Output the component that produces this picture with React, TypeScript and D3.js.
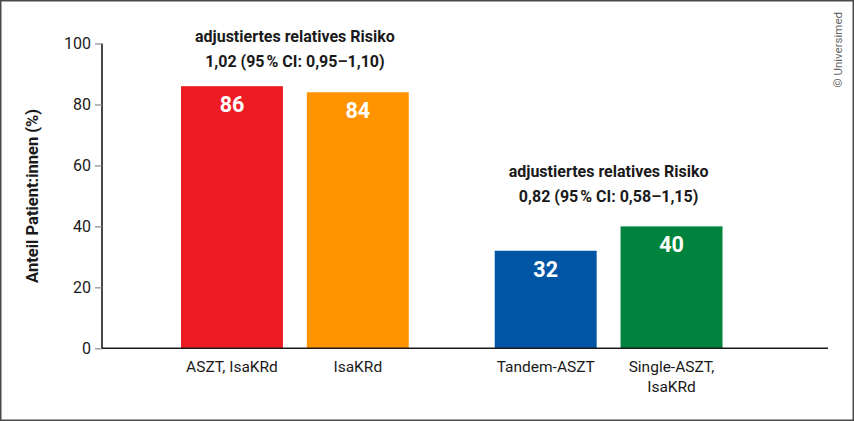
import React, { useEffect, useRef } from "react";
import * as d3 from "d3";

const categories = ["ASZT, IsaKRd", "IsaKRd", "Tandem-ASZT", "Single-ASZT,\nIsaKRd"];
const values = [86, 84, 32, 40];
const barGroup = [0, 0, 1, 1];
const barColors = ["#ed1c24", "#ff9400", "#0055a5", "#00843d"];
const annotations = [
  ["adjustiertes relatives Risiko", "1,02 (95\u202F% CI: 0,95–1,10)"],
  ["adjustiertes relatives Risiko", "0,82 (95\u202F% CI: 0,58–1,15)"],
];
const yTicks = [0, 20, 40, 60, 80, 100];

const W = 854;
const H = 421;
const FONT = "Roboto, 'Liberation Sans', sans-serif";

export default function App() {
  const svgRef = useRef<SVGSVGElement | null>(null);

  useEffect(() => {
    if (!svgRef.current) return;
    const svg = d3.select(svgRef.current);
    svg.selectAll("*").remove();

    // Rahmen
    svg
      .append("rect")
      .attr("x", 0.75)
      .attr("y", 0.75)
      .attr("width", W - 1.5)
      .attr("height", H - 1.5)
      .attr("fill", "#fff")
      .attr("stroke", "#4a4a4a")
      .attr("stroke-width", 1.5);

    const y = d3.scaleLinear().domain([0, 100]).range([348.3, 43.5]);

    // zwei Gruppen, je zwei Balken
    const xGroup = d3.scaleBand<number>().domain([0, 1]).range([181, 722.5]).paddingInner(0.274);
    const xInner = d3.scaleBand<number>().domain([0, 1]).range([0, xGroup.bandwidth()]).paddingInner(0.19);
    const bw = xInner.bandwidth();
    const bx = (i: number) => xGroup(barGroup[i])! + xInner(i % 2)!;

    const g = svg.append("g");

    // y-Achse
    const yAxis = g
      .append("g")
      .attr("transform", "translate(102,0)")
      .call(d3.axisLeft(y).tickValues(yTicks).tickSize(7).tickPadding(4));
    yAxis
      .select(".domain")
      .attr("stroke", "#1a1a1a")
      .attr("stroke-width", 1.6)
      .attr("d", `M0,${y(100)}V${y(0)}`);
    yAxis.selectAll(".tick line").attr("stroke", "#888").attr("stroke-width", 1.2);
    yAxis
      .selectAll(".tick text")
      .attr("fill", "#1a1a1a")
      .attr("font-family", FONT)
      .attr("font-size", 16);

    // Balken
    g.selectAll("rect.bar")
      .data(values)
      .join("rect")
      .attr("class", "bar")
      .attr("x", (_, i) => bx(i))
      .attr("width", bw)
      .attr("y", (d) => y(d))
      .attr("height", (d) => y(0) - y(d))
      .attr("fill", (_, i) => barColors[i]);

    // Werte
    g.selectAll("text.val")
      .data(values)
      .join("text")
      .attr("class", "val")
      .attr("x", (_, i) => bx(i) + bw / 2)
      .attr("y", (d) => y(d) + 26)
      .attr("text-anchor", "middle")
      .attr("fill", "#fff")
      .attr("font-family", FONT)
      .attr("font-weight", 700)
      .attr("font-size", 21.5)
      .text((d) => d);

    // x-Achse
    g.append("line")
      .attr("x1", 102)
      .attr("x2", 828)
      .attr("y1", y(0))
      .attr("y2", y(0))
      .attr("stroke", "#1a1a1a")
      .attr("stroke-width", 1.6);

    // Kategorien
    categories.forEach((c, i) => {
      const t = g
        .append("text")
        .attr("y", 372)
        .attr("text-anchor", "middle")
        .attr("fill", "#1a1a1a")
        .attr("font-family", FONT)
        .attr("font-size", 15.5);
      c.split("\n").forEach((line, j) => {
        t.append("tspan")
          .attr("x", bx(i) + bw / 2)
          .attr("dy", j === 0 ? 0 : 19.5)
          .text(line);
      });
    });

    // Annotationen über den Gruppen
    const annotGap = [44.5, 49.5];
    annotations.forEach((lines, k) => {
      const idx = values.map((_, i) => i).filter((i) => barGroup[i] === k);
      const top = y(d3.max(idx, (i) => values[i])!);
      const cx = xGroup(k)! + xGroup.bandwidth() / 2;
      lines.forEach((line, j) => {
        g.append("text")
          .attr("x", cx)
          .attr("y", top - annotGap[k] + j * 25)
          .attr("text-anchor", "middle")
          .attr("fill", "#1a1a1a")
          .attr("font-family", FONT)
          .attr("font-weight", 700)
          .attr("font-size", 16)
          .text(line);
      });
    });

    // y-Achsentitel
    svg
      .append("text")
      .attr("transform", `translate(38,${(y(0) + y(100)) / 2}) rotate(-90)`)
      .attr("text-anchor", "middle")
      .attr("fill", "#1a1a1a")
      .attr("font-family", FONT)
      .attr("font-weight", 700)
      .attr("font-size", 16.5)
      .text("Anteil Patient:innen (%)");

    // Copyright
    svg
      .append("text")
      .attr("transform", "translate(842,12) rotate(-90)")
      .attr("text-anchor", "end")
      .attr("fill", "#666")
      .attr("font-family", FONT)
      .attr("font-size", 11.5)
      .text("© Universimed");
  }, []);

  return (
    <svg
      ref={svgRef}
      width={W}
      height={H}
      style={{ position: "absolute", left: 0, top: 0, display: "block" }}
    />
  );
}
